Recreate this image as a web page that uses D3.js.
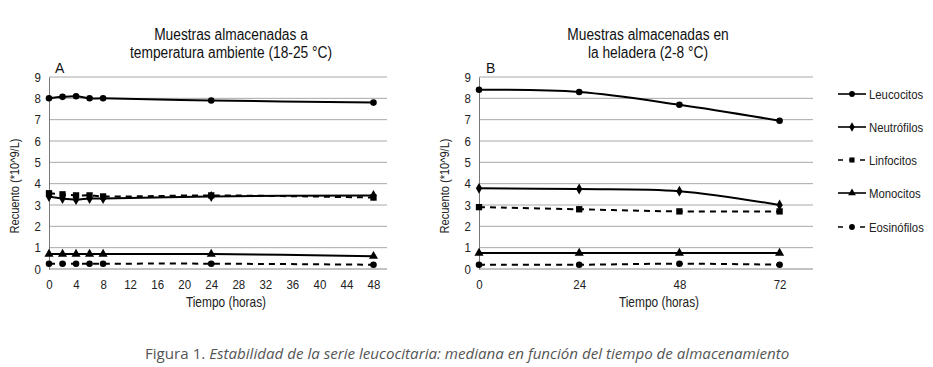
<!DOCTYPE html>
<html><head><meta charset="utf-8">
<script src="https://cdn.jsdelivr.net/npm/d3@7"></script>
<style>
body{margin:0;background:#fff;}
text{font-family:"Liberation Sans",Arial,sans-serif;}
</style></head>
<body><svg id="c" width="933" height="367"></svg>
<script>
const seriesNames = ["Leucocitos","Neutrófilos","Linfocitos","Monocitos","Eosinófilos"];
const markers = ["circle","diamond","square","triangle","circle"];
const dashed = [false,false,true,false,true];

const timesA = [0,2,4,6,8,24,48];
const leucA = [8.0,8.07,8.1,8.0,8.0,7.9,7.8];
const neutA = [3.4,3.3,3.25,3.3,3.3,3.4,3.45];
const linfA = [3.55,3.5,3.45,3.45,3.4,3.45,3.35];
const monoA = [0.7,0.7,0.7,0.7,0.7,0.7,0.6];
const eosA  = [0.25,0.25,0.25,0.25,0.25,0.25,0.2];

const timesB = [0,24,48,72];
const leucB = [8.4,8.3,7.7,6.95];
const neutB = [3.78,3.75,3.65,3.0];
const linfB = [2.9,2.8,2.7,2.7];
const monoB = [0.75,0.75,0.75,0.75];
const eosB  = [0.2,0.2,0.25,0.2];

const ticksXA = [0,4,8,12,16,20,24,28,32,36,40,44,48];
const ticksXB = [0,24,48,72];
const ticksY = [0,1,2,3,4,5,6,7,8,9];

const titleA = ["Muestras almacenadas a","temperatura ambiente (18-25 °C)"];
const titleB = ["Muestras almacenadas en","la heladera (2-8 °C)"];
const yLabel = "Recuento (*10^9/L)";
const xLabel = "Tiempo (horas)";
const captionA = "Figura 1. ";
const captionB = "Estabilidad de la serie leucocitaria: mediana en función del tiempo de almacenamiento";

const svg = d3.select("#c");

function squeeze(sel, f){
  sel.each(function(){
    const w = this.getComputedTextLength();
    d3.select(this).attr("textLength", w*f).attr("lengthAdjust","spacingAndGlyphs");
  });
}

function symbolFor(m){
  if(m==="circle") return d3.symbol().type(d3.symbolCircle).size(34);
  if(m==="diamond") return d3.symbol().type(d3.symbolDiamond).size(34);
  if(m==="square") return d3.symbol().type(d3.symbolSquare).size(40);
  return d3.symbol().type(d3.symbolTriangle).size(36);
}

function panel(cfg){
  const x = d3.scaleLinear().domain(cfg.xdom).range(cfg.xr);
  const y = d3.scaleLinear().domain([0,9]).range([269,77]);
  const g = svg.append("g");
  g.append("g").selectAll("line").data(ticksY).join("line")
    .attr("x1",cfg.xr[0]).attr("x2",cfg.xr[1])
    .attr("y1",d=>y(d)).attr("y2",d=>y(d))
    .attr("stroke",d=>d===0?"#888":"#a8a8a8").attr("stroke-width",1);
  const ya = g.append("g").attr("transform",`translate(${cfg.xr[0]},0)`)
    .call(d3.axisLeft(y).tickValues(ticksY).tickSize(0).tickPadding(8));
  ya.select(".domain").attr("stroke","#777");
  ya.selectAll("text").attr("font-size",13.5).attr("fill","#222").attr("font-family","Liberation Sans");
  squeeze(ya.selectAll("text"),0.85);
  const xa = g.append("g").attr("transform",`translate(0,269)`)
    .call(d3.axisBottom(x).tickValues(cfg.ticks).tickSize(0).tickPadding(10));
  xa.select(".domain").remove();
  xa.selectAll("text").attr("font-size",13.5).attr("fill","#222").attr("font-family","Liberation Sans");
  squeeze(xa.selectAll("text"),0.85);
  const yl = g.append("text").attr("transform",`translate(${cfg.ylx},186) rotate(-90)`)
    .attr("text-anchor","middle").attr("font-size",13.5).attr("fill","#222").text(yLabel);
  squeeze(yl,0.82);
  const xl = g.append("text").attr("x",cfg.xlx).attr("y",307).attr("text-anchor","middle")
    .attr("font-size",14.5).attr("fill","#222").text(xLabel);
  squeeze(xl,0.82);
  cfg.title.forEach((t,i)=>{
    const tt = g.append("text").attr("x",cfg.tx).attr("y",40+i*18)
      .attr("text-anchor","middle").attr("font-size",16).attr("fill","#111").text(t);
    squeeze(tt,0.86);
  });
  g.append("text").attr("x",cfg.lx).attr("y",73).attr("font-size",14).attr("fill","#111").text(cfg.letter);
  const line = d3.line().x(d=>x(d[0])).y(d=>y(d[1])).curve(d3.curveCatmullRom.alpha(0.5));
  cfg.series.forEach((vals,i)=>{
    const pts = cfg.times.map((t,j)=>[t,vals[j]]);
    g.append("path").datum(pts).attr("d",line).attr("fill","none")
      .attr("stroke","#000").attr("stroke-width",2)
      .attr("stroke-dasharray",dashed[i]?"6,5":null);
    g.append("g").selectAll("path").data(pts).join("path")
      .attr("transform",d=>`translate(${x(d[0])},${y(d[1])})`)
      .attr("d",symbolFor(markers[i])()).attr("fill","#000");
  });
}

panel({xdom:[0,50],xr:[49,387],ticks:ticksXA,times:timesA,series:[leucA,neutA,linfA,monoA,eosA],
  ylx:19,xlx:226,tx:231,title:titleA,letter:"A",lx:55});
panel({xdom:[0,80],xr:[479,813],ticks:ticksXB,times:timesB,series:[leucB,neutB,linfB,monoB,eosB],
  ylx:449,xlx:659,tx:648,title:titleB,letter:"B",lx:486});

const legY = [94,127,160,193,227];
const lg = svg.append("g");
seriesNames.forEach((n,i)=>{
  lg.append("line").attr("x1",838).attr("x2",866).attr("y1",legY[i]).attr("y2",legY[i])
    .attr("stroke","#000").attr("stroke-width",1.6).attr("stroke-dasharray",dashed[i]?"5,6":null);
  lg.append("path").attr("transform",`translate(852,${legY[i]})`)
    .attr("d",symbolFor(markers[i]).size(26)()).attr("fill","#000");
  const t = lg.append("text").attr("x",869).attr("y",legY[i]+4.5).attr("font-size",13.5).attr("fill","#222").text(n);
  squeeze(t,0.84);
});

const cap = svg.append("text").attr("x",145).attr("y",359).attr("font-size",13).attr("fill","#555")
  .style("font-family","'Open Sans','DejaVu Sans',sans-serif");
cap.append("tspan").text(captionA);
cap.append("tspan").attr("font-style","italic").text(captionB);
const cw = cap.node().getComputedTextLength();
cap.attr("font-size", 13*645/cw);
</script></body></html>
